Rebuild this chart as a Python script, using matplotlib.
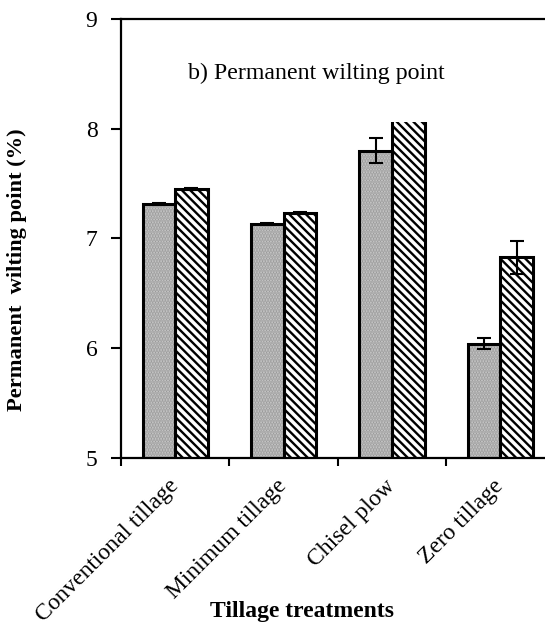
import numpy as np
import matplotlib
matplotlib.use("Agg")
import matplotlib.pyplot as plt

# data
treatments = ["Conventional tillage", "Minimum tillage", "Chisel plow", "Zero tillage"]
pwp_grey = [7.31, 7.13, 7.80, 6.04]
err_grey = [0.01, 0.01, 0.11, 0.05]
pwp_hatch = [7.45, 7.23, 8.20, 6.83]
err_hatch = [0.005, 0.01, 0.10, 0.15]

plt.rcParams['font.family'] = ['Liberation Serif', 'DejaVu Serif']
plt.rcParams['hatch.linewidth'] = 1.7

fig = plt.figure(figsize=(5.45, 6.25), dpi=100)
# axes run past the right edge of the figure, like the cropped original
ax = fig.add_axes([0.222, 0.267, 0.7956, 0.703])

x = np.arange(len(treatments))
w = 0.3

# grey dotted bars: texture first, then black outline
ax.bar(x - w / 2, pwp_grey, w, color='#cfcfcf', edgecolor='#9a9a9a',
       hatch='......', linewidth=0, zorder=2)
ax.bar(x - w / 2, pwp_grey, w, facecolor='none', edgecolor='black',
       linewidth=2.2, zorder=2.1)
ax.errorbar(x - w / 2, pwp_grey, yerr=err_grey, fmt='none', ecolor='black',
            elinewidth=1.5, capsize=5, capthick=1.5, zorder=2.2)

# hatched bars
ax.bar(x + w / 2, pwp_hatch, w, color='white', edgecolor='black',
       hatch='\\\\\\\\', linewidth=2.2, zorder=2)
ax.errorbar(x + w / 2, pwp_hatch, yerr=err_hatch, fmt='none', ecolor='black',
            elinewidth=1.5, capsize=5, capthick=1.5, zorder=2.2)

ax.text(0.118, 8.5, "b) Permanent wilting point", fontsize=17.2, va='center', ha='left',
        bbox=dict(boxstyle='square,pad=1.6', facecolor='white', edgecolor='none'),
        zorder=5)

ax.set_ylim(5, 9)
ax.set_yticks([5, 6, 7, 8, 9])
ax.set_xlim(-0.5, len(treatments) - 0.5)
ax.set_xticks(x)
ax.set_xticklabels(treatments, rotation=45, ha='right', va='center',
                   rotation_mode='anchor', fontsize=17)
ax.set_xticks(np.arange(len(treatments) + 1) - 0.5, minor=True)
ax.tick_params(axis='x', which='major', length=0, pad=18)
ax.tick_params(axis='x', which='minor', length=6, width=1.5)
ax.tick_params(axis='y', length=7, width=1.5, labelsize=17, pad=10)

for s in ['left', 'bottom', 'top', 'right']:
    ax.spines[s].set_linewidth(1.6)

fig.text(0.031, 0.568, "Permanent  wilting point (%)", rotation=90, fontsize=16.2,
         fontweight='bold', ha='center', va='center')
fig.text(0.554, 0.021, "Tillage treatments", fontsize=17, fontweight='bold',
         ha='center', va='center')

fig.savefig("out.png", dpi=100)
